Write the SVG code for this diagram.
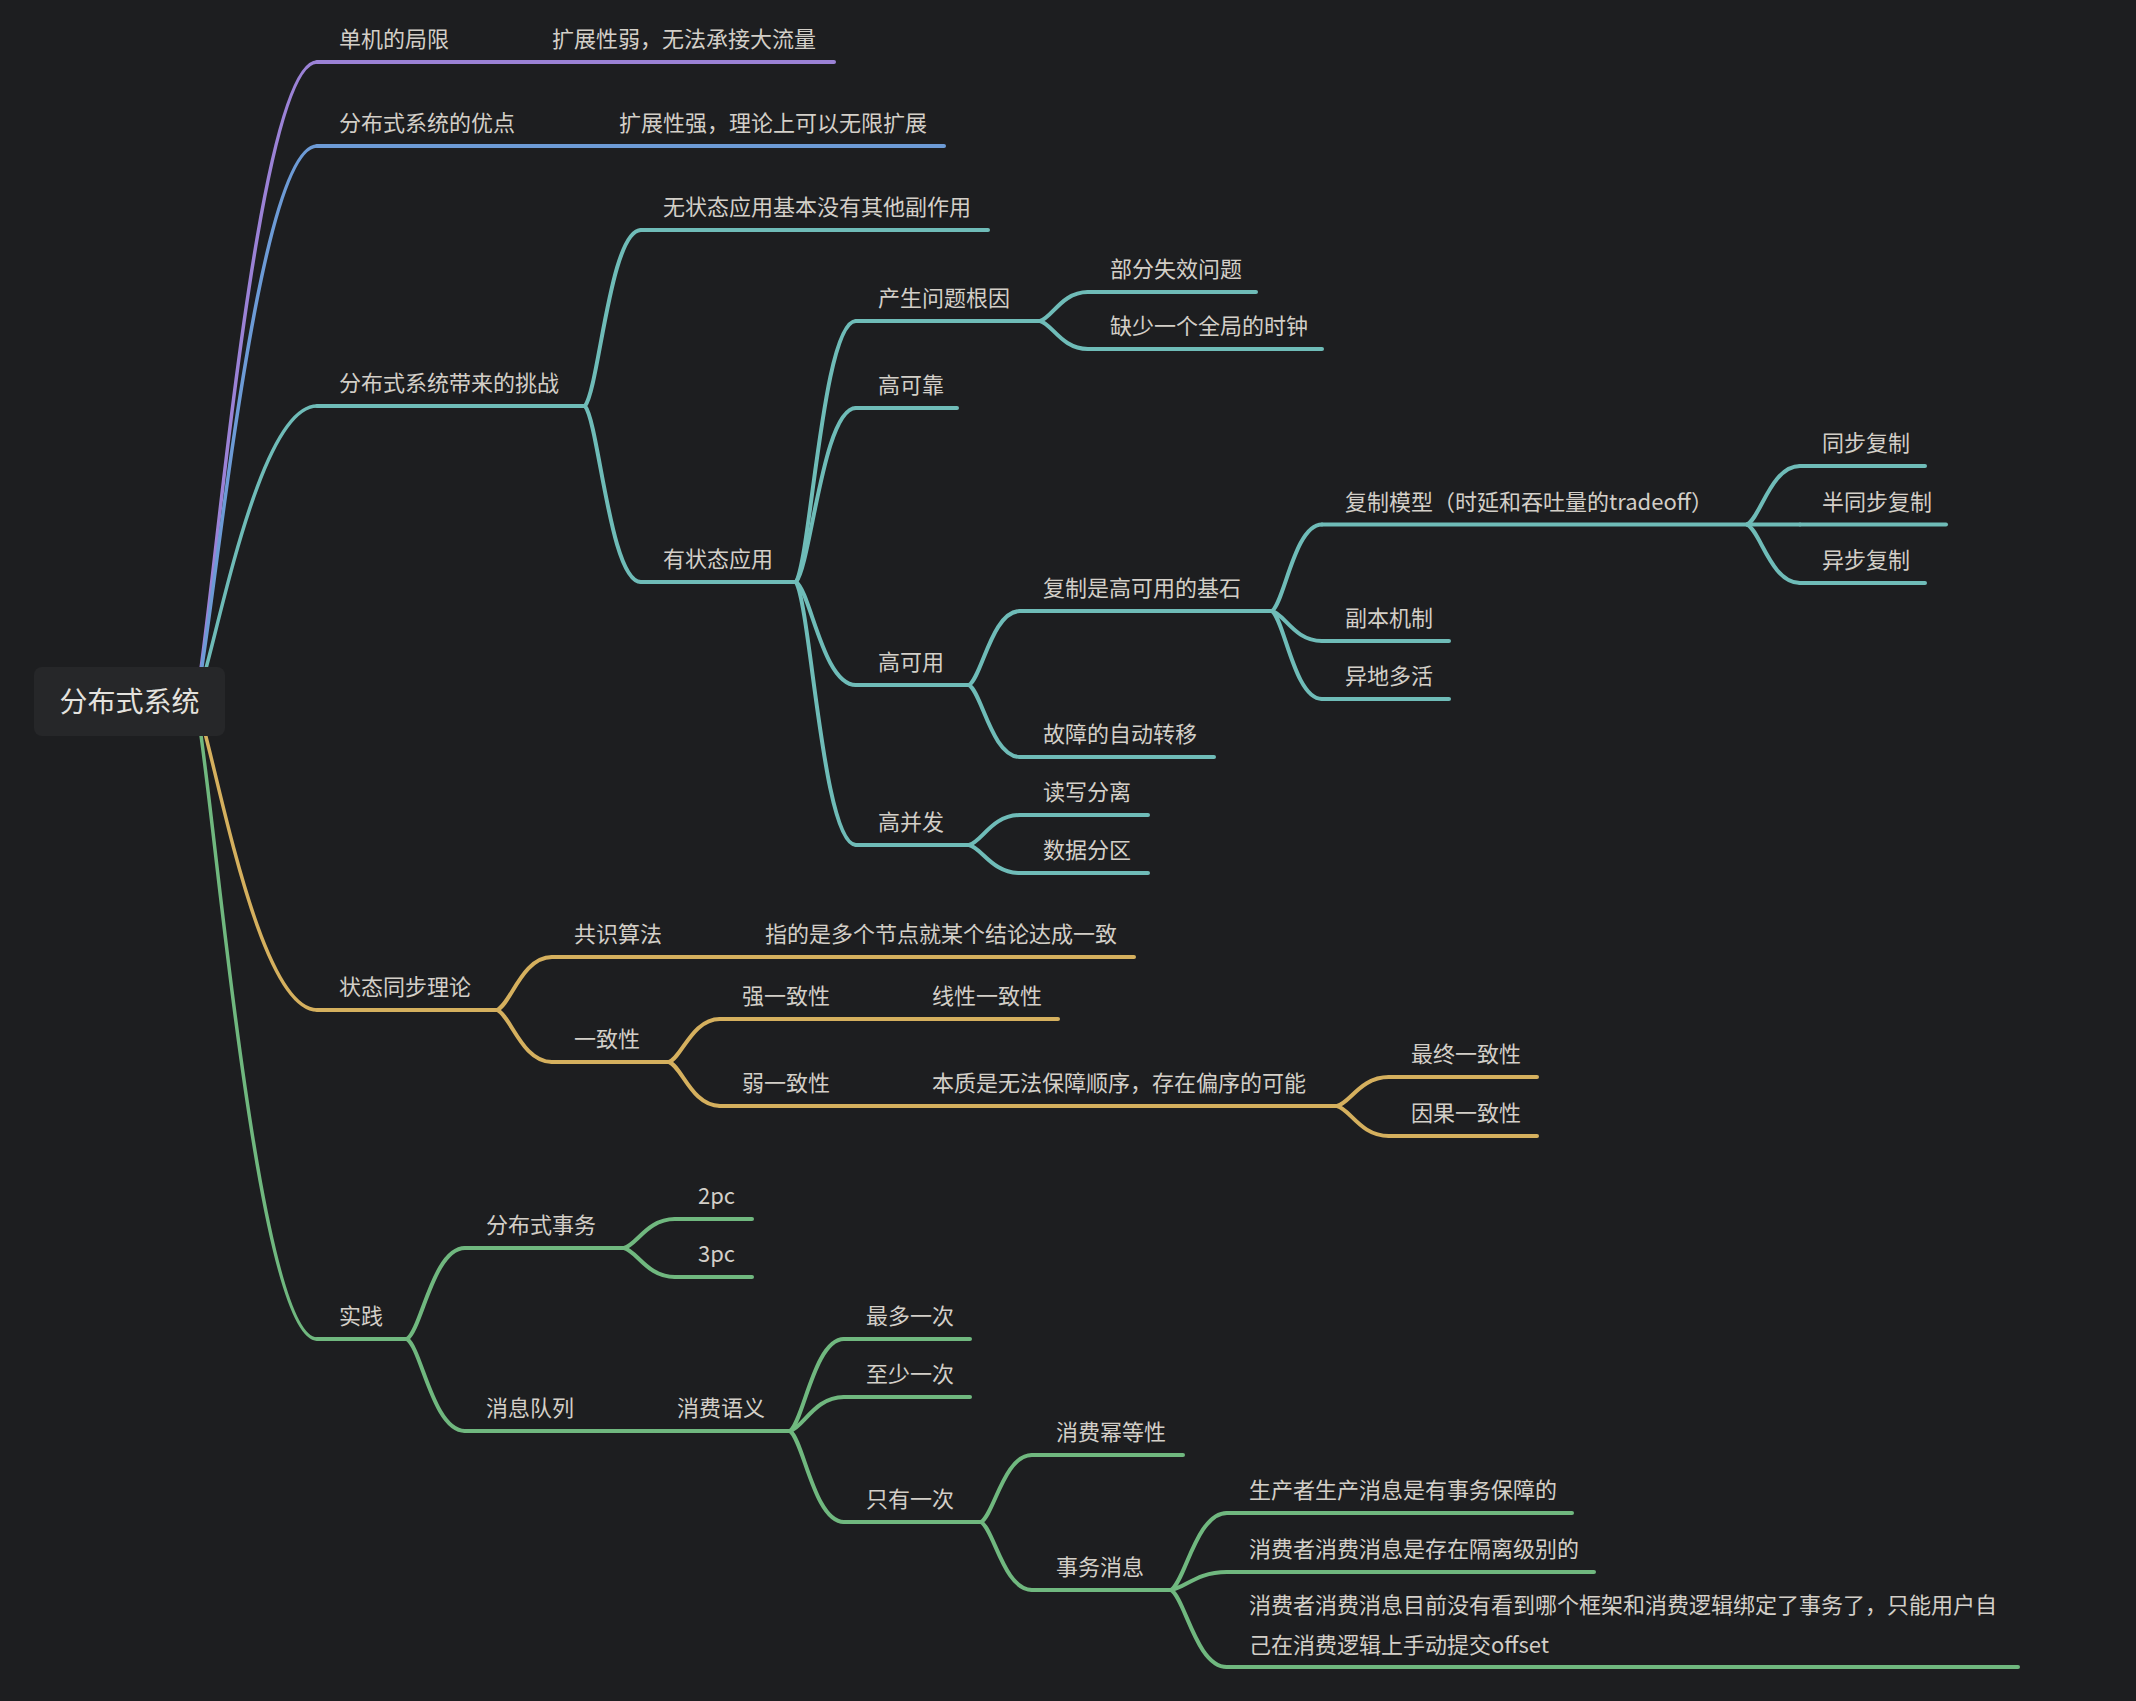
<svg xmlns="http://www.w3.org/2000/svg" width="2136" height="1701" viewBox="0 0 2136 1701">
<style>
text{font-family:"Noto Sans CJK SC","Microsoft YaHei","Noto Sans",sans-serif;font-size:22px;fill:#d3cfc8}
.root{font-size:28px;fill:#e4e2de}
.u{fill:none;stroke-width:4;stroke-linecap:round}
.c{fill:none;stroke-width:4;stroke-linecap:round}
.rc{fill:none;stroke-width:3.5;stroke-linecap:round}
.pu{stroke:#9b82d6}.bl{stroke:#6d9bd6}.te{stroke:#6fbcb8}.ye{stroke:#d5b05e}.gr{stroke:#70b87f}
</style>
<rect width="2136" height="1701" fill="#1d1e20"/>
<g id="connectors">
<path class="rc pu" d="M196,702 C214.2,606 256.5,62 317,62"/>
<path class="rc bl" d="M196,702 C214.2,618.6 256.5,146 317,146"/>
<path class="rc te" d="M196,702 C214.2,657.6 256.5,406 317,406"/>
<path class="rc ye" d="M196,702 C214.2,748.2 256.5,1010 317,1010"/>
<path class="rc gr" d="M196,702 C214.2,797.6 256.5,1339 317,1339"/>
<path class="c pu" d="M463,62 L530,62"/>
<path class="c bl" d="M529,146 L597,146"/>
<g class="te">
<path class="c" d="M585,406 C599,388.4 610.2,230 641,230"/>
<path class="c" d="M585,406 C599,423.6 610.2,582 641,582"/>
<path class="c" d="M796,582 C811,555.9 823,321 856,321"/>
<path class="c" d="M796,582 C811,564.6 823,408 856,408"/>
<path class="c" d="M796,582 C811,592.3 823,685 856,685"/>
<path class="c" d="M796,582 C811,608.3 823,845 856,845"/>
<path class="c" d="M1040,321 C1052,318.1 1061.6,292 1088,292"/>
<path class="c" d="M1040,321 C1052,323.8 1061.6,349 1088,349"/>
<path class="c" d="M969,685 C981.75,677.6 991.95,611 1020,611"/>
<path class="c" d="M969,685 C981.75,692.2 991.95,757 1020,757"/>
<path class="c" d="M1272,611 C1284.5,602.35 1294.5,524.5 1322,524.5"/>
<path class="c" d="M1272,611 C1284.5,614 1294.5,641 1322,641"/>
<path class="c" d="M1272,611 C1284.5,619.8 1294.5,699 1322,699"/>
<path class="c" d="M1747,524.5 C1760.25,518.65 1770.85,466 1800,466"/>
<path class="c" d="M1747,524.5 L1800,524.5"/>
<path class="c" d="M1747,524.5 C1760.25,530.35 1770.85,583 1800,583"/>
<path class="c" d="M969,845 C981.75,842 991.95,815 1020,815"/>
<path class="c" d="M969,845 C981.75,847.8 991.95,873 1020,873"/>
</g>
<g class="ye">
<path class="c" d="M497,1010 C510.75,1004.7 521.75,957 552,957"/>
<path class="c" d="M497,1010 C510.75,1015.2 521.75,1062 552,1062"/>
<path class="c" d="M688,957 L743,957"/>
<path class="c" d="M669,1062 C681.75,1057.7 691.95,1019 720,1019"/>
<path class="c" d="M669,1062 C681.75,1066.4 691.95,1106 720,1106"/>
<path class="c" d="M856,1019 L910,1019"/>
<path class="c" d="M856,1106 L910,1106"/>
<path class="c" d="M1337,1106 C1350,1103.1 1360.4,1077 1389,1077"/>
<path class="c" d="M1337,1106 C1350,1109 1360.4,1136 1389,1136"/>
</g>
<g class="gr">
<path class="c" d="M407,1339 C421.5,1329.9 433.1,1248 465,1248"/>
<path class="c" d="M407,1339 C421.5,1348.2 433.1,1431 465,1431"/>
<path class="c" d="M624,1248 C636.75,1245.1 646.95,1219 675,1219"/>
<path class="c" d="M624,1248 C636.75,1250.9 646.95,1277 675,1277"/>
<path class="c" d="M599,1431 L655,1431"/>
<path class="c" d="M790,1431 C803.5,1421.8 814.3,1339 844,1339"/>
<path class="c" d="M790,1431 C803.5,1427.6 814.3,1397 844,1397"/>
<path class="c" d="M790,1431 C803.5,1440.1 814.3,1522 844,1522"/>
<path class="c" d="M981,1522 C993.75,1515.3 1003.95,1455 1032,1455"/>
<path class="c" d="M981,1522 C993.75,1528.8 1003.95,1590 1032,1590"/>
<path class="c" d="M1171,1590 C1185,1582.3 1196.2,1513 1227,1513"/>
<path class="c" d="M1171,1590 C1185,1588.2 1196.2,1572 1227,1572"/>
<path class="c" d="M1171,1590 C1185,1597.7 1196.2,1667 1227,1667"/>
</g>
</g>
<g id="root"><rect x="34" y="667" width="191" height="69" rx="8" fill="#262729"/><text class="root" x="129.5" y="712" text-anchor="middle">分布式系统</text></g>
<g id="n-danji"><path class="u pu" d="M317,62 H463"/><text x="339" y="47">单机的局限</text></g>
<g id="n-danji-1"><path class="u pu" d="M530,62 H834"/><text x="552" y="47">扩展性弱，无法承接大流量</text></g>
<g id="n-youdian"><path class="u bl" d="M317,146 H529"/><text x="339" y="131">分布式系统的优点</text></g>
<g id="n-youdian-1"><path class="u bl" d="M597,146 H944"/><text x="619" y="131">扩展性强，理论上可以无限扩展</text></g>
<g id="n-tiaozhan"><path class="u te" d="M317,406 H585"/><text x="339" y="391">分布式系统带来的挑战</text></g>
<g id="n-wuzhuangtai"><path class="u te" d="M641,230 H988"/><text x="663" y="215">无状态应用基本没有其他副作用</text></g>
<g id="n-youzhuangtai"><path class="u te" d="M641,582 H796"/><text x="663" y="567">有状态应用</text></g>
<g id="n-genyin"><path class="u te" d="M856,321 H1040"/><text x="878" y="306">产生问题根因</text></g>
<g id="n-bufen"><path class="u te" d="M1088,292 H1256"/><text x="1110" y="277">部分失效问题</text></g>
<g id="n-shizhong"><path class="u te" d="M1088,349 H1322"/><text x="1110" y="334">缺少一个全局的时钟</text></g>
<g id="n-gaokekao"><path class="u te" d="M856,408 H957"/><text x="878" y="393">高可靠</text></g>
<g id="n-gaokeyong"><path class="u te" d="M856,685 H969"/><text x="878" y="670">高可用</text></g>
<g id="n-jishi"><path class="u te" d="M1020,611 H1272"/><text x="1043" y="596">复制是高可用的基石</text></g>
<g id="n-moxing"><path class="u te" d="M1322,524.5 H1747"/><text x="1345" y="509.5">复制模型（时延和吞吐量的tradeoff）</text></g>
<g id="n-tongbu"><path class="u te" d="M1800,466 H1925"/><text x="1822" y="451">同步复制</text></g>
<g id="n-bantongbu"><path class="u te" d="M1800,524.5 H1946"/><text x="1822" y="509.5">半同步复制</text></g>
<g id="n-yibu"><path class="u te" d="M1800,583 H1925"/><text x="1822" y="568">异步复制</text></g>
<g id="n-fuben"><path class="u te" d="M1322,641 H1449"/><text x="1345" y="626">副本机制</text></g>
<g id="n-yidi"><path class="u te" d="M1322,699 H1449"/><text x="1345" y="684">异地多活</text></g>
<g id="n-zhuanyi"><path class="u te" d="M1020,757 H1214"/><text x="1043" y="742">故障的自动转移</text></g>
<g id="n-gaobingfa"><path class="u te" d="M856,845 H969"/><text x="878" y="830">高并发</text></g>
<g id="n-duxie"><path class="u te" d="M1020,815 H1148"/><text x="1043" y="800">读写分离</text></g>
<g id="n-fenqu"><path class="u te" d="M1020,873 H1148"/><text x="1043" y="858">数据分区</text></g>
<g id="n-zhuangtai"><path class="u ye" d="M317,1010 H497"/><text x="339" y="995">状态同步理论</text></g>
<g id="n-gongshi"><path class="u ye" d="M552,957 H688"/><text x="574" y="942">共识算法</text></g>
<g id="n-gongshi-1"><path class="u ye" d="M743,957 H1134"/><text x="765" y="942">指的是多个节点就某个结论达成一致</text></g>
<g id="n-yizhi"><path class="u ye" d="M552,1062 H669"/><text x="574" y="1047">一致性</text></g>
<g id="n-qiang"><path class="u ye" d="M720,1019 H856"/><text x="742" y="1004">强一致性</text></g>
<g id="n-xianxing"><path class="u ye" d="M910,1019 H1058"/><text x="932" y="1004">线性一致性</text></g>
<g id="n-ruo"><path class="u ye" d="M720,1106 H856"/><text x="742" y="1091">弱一致性</text></g>
<g id="n-benzhi"><path class="u ye" d="M910,1106 H1337"/><text x="932" y="1091">本质是无法保障顺序，存在偏序的可能</text></g>
<g id="n-zuizhong"><path class="u ye" d="M1389,1077 H1537"/><text x="1411" y="1062">最终一致性</text></g>
<g id="n-yinguo"><path class="u ye" d="M1389,1136 H1537"/><text x="1411" y="1121">因果一致性</text></g>
<g id="n-shijian"><path class="u gr" d="M317,1339 H407"/><text x="339" y="1324">实践</text></g>
<g id="n-shiwu"><path class="u gr" d="M465,1248 H624"/><text x="486" y="1233">分布式事务</text></g>
<g id="n-2pc"><path class="u gr" d="M675,1219 H752"/><text x="698" y="1204">2pc</text></g>
<g id="n-3pc"><path class="u gr" d="M675,1277 H752"/><text x="698" y="1262">3pc</text></g>
<g id="n-duilie"><path class="u gr" d="M465,1431 H599"/><text x="486" y="1416">消息队列</text></g>
<g id="n-yuyi"><path class="u gr" d="M655,1431 H790"/><text x="677" y="1416">消费语义</text></g>
<g id="n-zuiduo"><path class="u gr" d="M844,1339 H970"/><text x="866" y="1324">最多一次</text></g>
<g id="n-zhishao"><path class="u gr" d="M844,1397 H970"/><text x="866" y="1382">至少一次</text></g>
<g id="n-zhiyou"><path class="u gr" d="M844,1522 H981"/><text x="866" y="1507">只有一次</text></g>
<g id="n-mideng"><path class="u gr" d="M1032,1455 H1183"/><text x="1056" y="1440">消费幂等性</text></g>
<g id="n-shiwuxiaoxi"><path class="u gr" d="M1032,1590 H1171"/><text x="1056" y="1575">事务消息</text></g>
<g id="n-shengchan"><path class="u gr" d="M1227,1513 H1572"/><text x="1249" y="1498">生产者生产消息是有事务保障的</text></g>
<g id="n-geli"><path class="u gr" d="M1227,1572 H1594"/><text x="1249" y="1557">消费者消费消息是存在隔离级别的</text></g>
<g id="n-offset"><path class="u gr" d="M1227,1667 H2018"/><text x="1249" y="1613">消费者消费消息目前没有看到哪个框架和消费逻辑绑定了事务了，只能用户自</text><text x="1249" y="1653">己在消费逻辑上手动提交offset</text></g>
</svg>
